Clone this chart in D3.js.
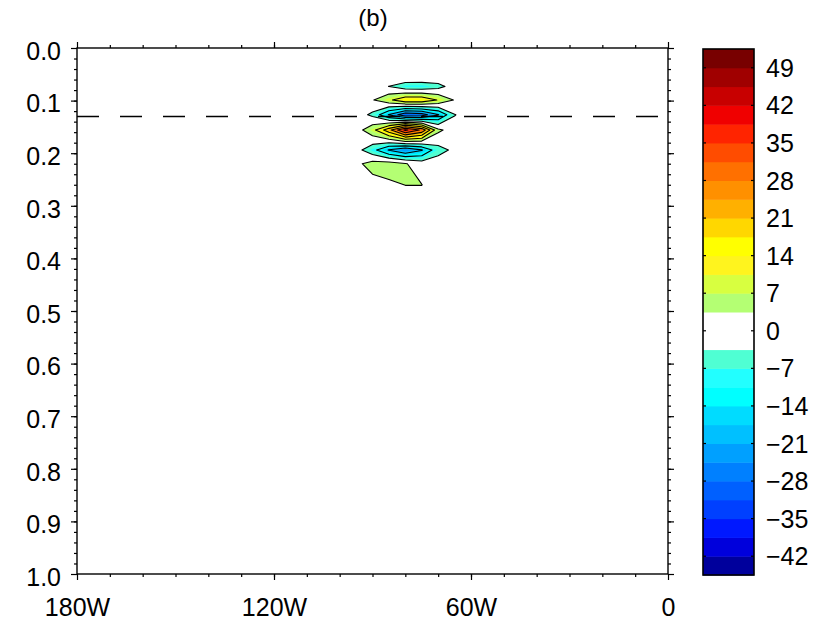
<!DOCTYPE html>
<html>
<head>
<meta charset="utf-8">
<script src="https://cdn.jsdelivr.net/npm/d3@7"></script>
<style>
  body { margin: 0; background: #fff; }
  text { font-family: "Liberation Sans", Arial, sans-serif; fill: #000; }
</style>
</head>
<body>
<div class="canvas"></div>
<script>
// grid of the field (longitude columns, level rows)
const lons = [-105, -100, -95, -90, -85, -80, -75, -70, -65, -60, -55];
const levs = [0.06, 0.073, 0.099, 0.127, 0.156, 0.194, 0.22, 0.26, 0.30];
const field = [
  [0, 0, 0,    0,   0,    0,    0,    0,    0,    0, 0],
  [0, 0, 0,    0,  -3.6, -8,   -8.5, -6,    0,    0, 0],
  [0, 0, 0,    3,   9,   16,   16,   10,    3,    0, 0],
  [0, 0, 0,   -5, -18,  -30,  -28,  -18,   -3.8,  0, 0],
  [0, 0, 0.5,  8,  22,   40,   30,    5,    0,    0, 0],
  [0, 0, -1,  -8, -18,  -24,  -18,   -6,   -2,    0, 0],
  [0, 0, 2,    6,   6.5,  4,    0,    0,    0,    0, 0],
  [0, 0, 0,    1,   2.5,  3.6,  3.6,  0,    0,    0, 0],
  [0, 0, 0,    0,   0,    0,    0,    0,    0,    0, 0]
];

// colour bands from -45.5 upward, 3.5 wide
const bandColors = [
  '#00009c', '#0000dc', '#0018ff', '#0040ff', '#0060ff', '#0080ff', '#00a0ff',
  '#00c0ff', '#00dcff', '#00ffff', '#22ffff', '#4fffd3', '#ffffff', '#ffffff',
  '#b4ff73', '#d8ff40', '#fff41e', '#ffff00', '#ffd700', '#ffb000', '#ff9000',
  '#ff7000', '#ff4c00', '#ff2400', '#f00000', '#c80000', '#a00000', '#780000'
];
const bandMin = -45.5, bandStep = 3.5;
const cbTicks = [-42, -35, -28, -21, -14, -7, 0, 7, 14, 21, 28, 35, 42, 49];
const xTicks = [-180, -120, -60, 0];
const xLabels = ['180W', '120W', '60W', '0'];
const yTicks = [0, 0.1, 0.2, 0.3, 0.4, 0.5, 0.6, 0.7, 0.8, 0.9, 1.0];
const dashLev = 0.13;

const plot = { left: 77, right: 668, top: 48, bottom: 574 };
const cbar = { left: 703, right: 754, top: 49, bottom: 575 };

const svg = d3.select('.canvas')
  .append('svg')
  .attr('width', 823)
  .attr('height', 624);

const x = d3.scaleLinear().domain([-180, 0]).range([plot.left, plot.right]);
const y = d3.scaleLinear().domain([0, 1]).range([plot.top, plot.bottom]);

// grid index -> lon / lev (grid spacing is not even)
const colToLon = d3.scaleLinear().domain(d3.range(lons.length)).range(lons);
const rowToLev = d3.scaleLinear().domain(d3.range(levs.length)).range(levs);
const proj = d3.geoTransform({
  point: function(px, py) {
    this.stream.point(x(colToLon(px - 0.5)), y(rowToLev(py - 0.5)));
  }
});
const path = d3.geoPath(proj);

const values = field.flat();
const negValues = values.map(v => -v);
const contours = d3.contours().size([lons.length, levs.length]);
const bandColor = lo => bandColors[Math.round((lo - bandMin) / bandStep)];

svg.append('clipPath').attr('id', 'clip')
  .append('rect')
  .attr('x', plot.left).attr('y', plot.top)
  .attr('width', plot.right - plot.left).attr('height', plot.bottom - plot.top);

const graph = svg.append('g').attr('clip-path', 'url(#clip)');

// filled bands: positive side then negative side (white around zero)
const steps = d3.range(1, 14).map(i => i * bandStep);   // 3.5 .. 45.5
steps.concat([49]).forEach(t => {
  graph.append('path')
    .attr('d', path(contours.contour(values, t)))
    .attr('fill', bandColor(t));
});
steps.slice(0, 12).forEach(t => {
  graph.append('path')
    .attr('d', path(contours.contour(negValues, t)))
    .attr('fill', bandColor(-t - bandStep));
});

// contour lines every 7
const lineLevels = [3.5, 10.5, 17.5, 24.5, 31.5, 38.5, 45.5];
lineLevels.forEach(t => {
  [values, negValues].forEach(vals => {
    graph.append('path')
      .attr('d', path(contours.contour(vals, t)))
      .attr('fill', 'none')
      .attr('stroke', '#000')
      .attr('stroke-width', 1.1)
      .attr('stroke-linejoin', 'round');
  });
});

// dashed reference line
svg.append('line')
  .attr('x1', plot.left).attr('x2', plot.right)
  .attr('y1', y(dashLev)).attr('y2', y(dashLev))
  .attr('stroke', '#000')
  .attr('stroke-width', 1.5)
  .attr('stroke-dasharray', '22,21');

// axes
const xMinor = d3.range(-170, 0, 10);
const yMinor = d3.range(1, 50).map(i => i * 0.02);

const styleAxis = g => {
  g.select('.domain').remove();
  g.selectAll('line').attr('stroke', '#000').attr('stroke-width', 1.2);
};

svg.append('g')
  .attr('transform', `translate(0, ${plot.bottom})`)
  .call(d3.axisBottom(x).tickValues(xTicks).tickSize(6).tickPadding(18)
    .tickFormat((d, i) => xLabels[i]))
  .call(styleAxis)
  .call(g => g.selectAll('text').attr('font-size', 25).attr('font-family', null));
svg.append('g')
  .attr('transform', `translate(0, ${plot.bottom})`)
  .call(d3.axisBottom(x).tickValues(xMinor).tickSize(3).tickFormat(''))
  .call(styleAxis);
svg.append('g')
  .attr('transform', `translate(0, ${plot.top})`)
  .call(d3.axisTop(x).tickValues(xTicks).tickSize(6).tickFormat(''))
  .call(styleAxis);
svg.append('g')
  .attr('transform', `translate(0, ${plot.top})`)
  .call(d3.axisTop(x).tickValues(xMinor).tickSize(3).tickFormat(''))
  .call(styleAxis);

svg.append('g')
  .attr('transform', `translate(${plot.left}, 0)`)
  .call(d3.axisLeft(y).tickValues(yTicks).tickSize(6).tickPadding(10)
    .tickFormat(d3.format('.1f')))
  .call(styleAxis)
  .call(g => g.selectAll('text').attr('font-size', 25).attr('font-family', null).attr('dy', '0.45em'));
svg.append('g')
  .attr('transform', `translate(${plot.left}, 0)`)
  .call(d3.axisLeft(y).tickValues(yMinor).tickSize(3).tickFormat(''))
  .call(styleAxis);
svg.append('g')
  .attr('transform', `translate(${plot.right}, 0)`)
  .call(d3.axisRight(y).tickValues(yTicks).tickSize(6).tickFormat(''))
  .call(styleAxis);
svg.append('g')
  .attr('transform', `translate(${plot.right}, 0)`)
  .call(d3.axisRight(y).tickValues(yMinor).tickSize(3).tickFormat(''))
  .call(styleAxis);

// frame
svg.append('rect')
  .attr('x', plot.left).attr('y', plot.top)
  .attr('width', plot.right - plot.left).attr('height', plot.bottom - plot.top)
  .attr('fill', 'none').attr('stroke', '#000').attr('stroke-width', 1.4);

// title
svg.append('text')
  .attr('x', 373).attr('y', 26)
  .attr('text-anchor', 'middle')
  .attr('font-size', 24)
  .text('(b)');

// colour bar
const cy = d3.scaleLinear()
  .domain([bandMin, bandMin + bandStep * bandColors.length])
  .range([cbar.bottom, cbar.top]);

const cb = svg.append('g');
cb.selectAll('rect.band')
  .data(bandColors)
  .enter().append('rect')
    .attr('class', 'band')
    .attr('x', cbar.left)
    .attr('width', cbar.right - cbar.left)
    .attr('y', (d, i) => cy(bandMin + (i + 1) * bandStep))
    .attr('height', (d, i) => cy(bandMin + i * bandStep) - cy(bandMin + (i + 1) * bandStep) + 0.5)
    .attr('fill', d => d);

cb.selectAll('line.tl')
  .data(cbTicks)
  .enter().append('line')
    .attr('x1', cbar.left).attr('x2', cbar.left + 3)
    .attr('y1', d => cy(d)).attr('y2', d => cy(d))
    .attr('stroke', '#000').attr('stroke-width', 1.2);
cb.selectAll('line.tr')
  .data(cbTicks)
  .enter().append('line')
    .attr('x1', cbar.right - 3).attr('x2', cbar.right)
    .attr('y1', d => cy(d)).attr('y2', d => cy(d))
    .attr('stroke', '#000').attr('stroke-width', 1.2);

cb.append('rect')
  .attr('x', cbar.left).attr('y', cbar.top)
  .attr('width', cbar.right - cbar.left).attr('height', cbar.bottom - cbar.top)
  .attr('fill', 'none').attr('stroke', '#000').attr('stroke-width', 1.6);

cb.selectAll('text')
  .data(cbTicks)
  .enter().append('text')
    .attr('x', 766)
    .attr('y', d => cy(d))
    .attr('dy', '0.36em')
    .attr('font-size', 25)
    .text(d => d < 0 ? '\u2212' + Math.abs(d) : d);
</script>
</body>
</html>
